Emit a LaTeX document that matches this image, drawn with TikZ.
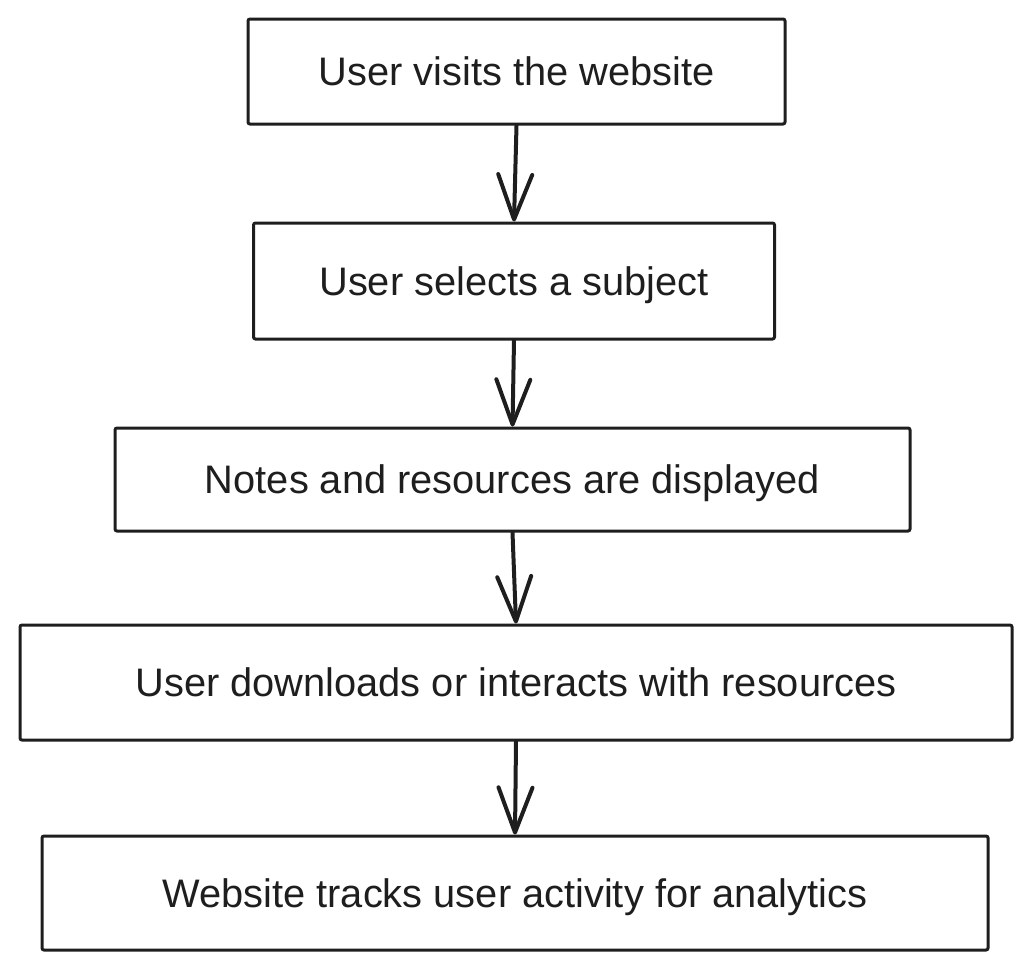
\documentclass[tikz,border=0pt]{standalone}
\usepackage{fontspec}
\setmainfont{Liberation Sans}
\usetikzlibrary{arrows.meta}
\definecolor{ink}{HTML}{1E1E1E}
\tikzset{
  box/.style={draw=ink, line width=3pt, rounded corners=2pt, rectangle, inner sep=0pt,
    text=ink, font=\fontsize{39.8}{48}\selectfont, text height=28.5pt, text depth=0pt},
  flowarrow/.style={draw=ink, line width=4pt, line cap=round, line join=round,
    -{Straight Barb[length=45pt, width=34pt, line cap=round, line join=round]}}
}
\begin{document}
\begin{tikzpicture}[x=1pt, y=-1pt]
\useasboundingbox (0,0) rectangle (1036,972);
\node[box, minimum width=537pt, minimum height=105pt] (b1) at (516.5,71.5) {User visits the website};
\node[box, minimum width=521pt, minimum height=116pt] (b2) at (514,281) {User selects a subject};
\node[box, minimum width=795pt, minimum height=103pt] (b3) at (512.5,479.5) {Notes and resources are displayed};
\node[box, minimum width=992pt, minimum height=115pt] (b4) at (516,682.5) {User downloads or interacts with resources};
\node[box, minimum width=946pt, minimum height=114pt] (b5) at (515,893) {Website tracks user activity for analytics};
\draw[flowarrow] (b1.south) -- (b2.north);
\draw[flowarrow] (b2.south) -- (b3.north);
\draw[flowarrow] (b3.south) -- (b4.north);
\draw[flowarrow] (b4.south) -- (b5.north);
\end{tikzpicture}
\end{document}
